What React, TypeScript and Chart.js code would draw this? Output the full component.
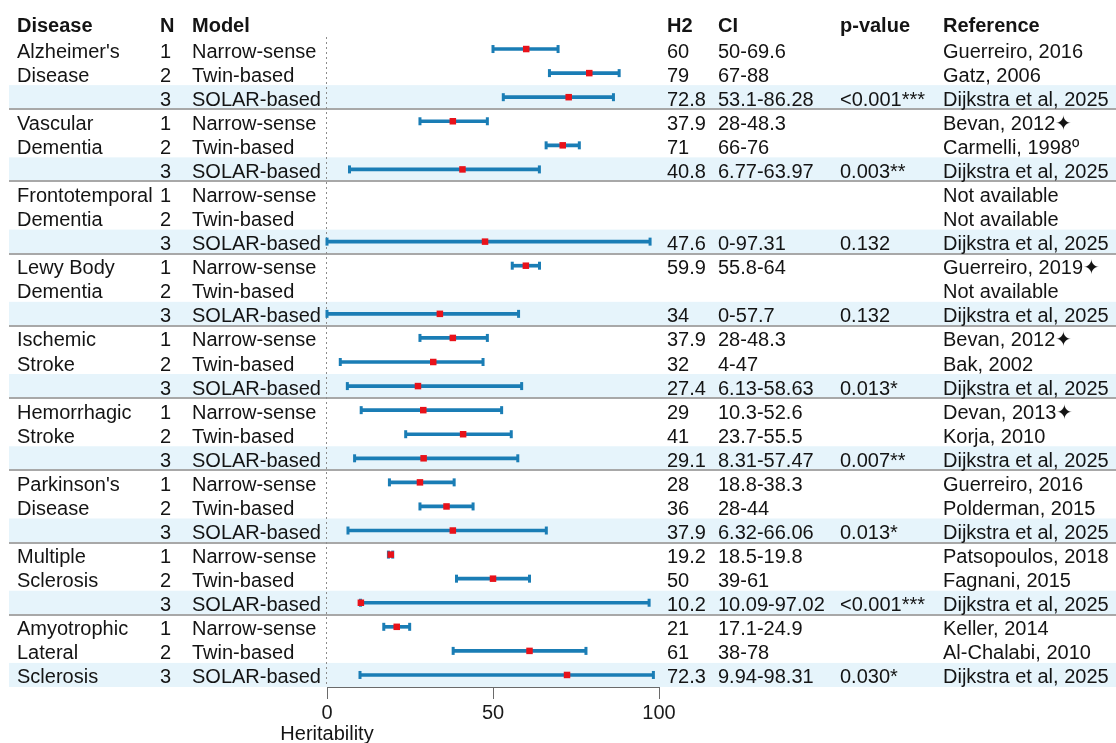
import { useEffect, useRef } from "react";
import { Chart, registerables } from "chart.js";

Chart.register(...registerables);

const diseases = [
  ["Alzheimer's", "Disease"],
  ["Vascular", "Dementia"],
  ["Frontotemporal", "Dementia"],
  ["Lewy Body", "Dementia"],
  ["Ischemic", "Stroke"],
  ["Hemorrhagic", "Stroke"],
  ["Parkinson's", "Disease"],
  ["Multiple", "Sclerosis"],
  ["Amyotrophic", "Lateral", "Sclerosis"],
];
const models = ["Narrow-sense", "Twin-based", "SOLAR-based"];
const h2 = [
  60, 79, 72.8,
  37.9, 71, 40.8,
  null, null, 47.6,
  59.9, null, 34,
  37.9, 32, 27.4,
  29, 41, 29.1,
  28, 36, 37.9,
  19.2, 50, 10.2,
  21, 61, 72.3,
];
const ciLow = [
  50, 67, 53.1,
  28, 66, 6.77,
  null, null, 0,
  55.8, null, 0,
  28, 4, 6.13,
  10.3, 23.7, 8.31,
  18.8, 28, 6.32,
  18.5, 39, 10.09,
  17.1, 38, 9.94,
];
const ciHigh = [
  69.6, 88, 86.28,
  48.3, 76, 63.97,
  null, null, 97.31,
  64, null, 57.7,
  48.3, 47, 58.63,
  52.6, 55.5, 57.47,
  38.3, 44, 66.06,
  19.8, 61, 97.02,
  24.9, 78, 98.31,
];
const pValues = ["<0.001***", "0.003**", "0.132", "0.132", "0.013*", "0.007**", "0.013*", "<0.001***", "0.030*"];
const references = [
  "Guerreiro, 2016", "Gatz, 2006", "Dijkstra et al, 2025",
  "Bevan, 2012\u2726", "Carmelli, 1998\u00ba", "Dijkstra et al, 2025",
  "Not available", "Not available", "Dijkstra et al, 2025",
  "Guerreiro, 2019\u2726", "Not available", "Dijkstra et al, 2025",
  "Bevan, 2012\u2726", "Bak, 2002", "Dijkstra et al, 2025",
  "Devan, 2013\u2726", "Korja, 2010", "Dijkstra et al, 2025",
  "Guerreiro, 2016", "Polderman, 2015", "Dijkstra et al, 2025",
  "Patsopoulos, 2018", "Fagnani, 2015", "Dijkstra et al, 2025",
  "Keller, 2014", "Al-Chalabi, 2010", "Dijkstra et al, 2025",
];
const headers = ["Disease", "N", "Model", "H2", "CI", "p-value", "Reference"];
const xTicks = [0, 50, 100];
const axisTitle = "Heritability";

const FONT = '"Liberation Sans", Arial, Helvetica, sans-serif';
const COL_X = [17, 160, 192, 667, 718, 840, 943];
const BAR_COLOR = "#1a7db5";
const POINT_COLOR = "#e8121a";
const BAND_COLOR = "#e6f4fb";
const SEP_COLOR = "#a8a8a8";
const TEXT_COLOR = "#141414";

const nRows = h2.length;

export default function App() {
  const ref = useRef<HTMLCanvasElement | null>(null);

  useEffect(() => {
    document.body.style.margin = "0";
    const canvas = ref.current;
    if (!canvas) return;

    const barData: any[] = [];
    const capData: any[] = [];
    const pointData: any[] = [];
    for (let i = 0; i < nRows; i++) {
      const row = i + 1;
      if (ciLow[i] != null && ciHigh[i] != null) {
        barData.push({ x: [ciLow[i], ciHigh[i]], y: row });
        capData.push({ x: ciLow[i], y: row });
        capData.push({ x: ciHigh[i], y: row });
      }
      if (h2[i] != null) pointData.push({ x: h2[i], y: row });
    }

    const tablePlugin = {
      id: "tablePlugin",
      beforeDraw(chart: any) {
        const { ctx, scales } = chart;
        const y = scales.y;
        const x = scales.x;
        const W = chart.width;
        ctx.save();
        ctx.fillStyle = "#ffffff";
        ctx.fillRect(0, 0, W, chart.height);
        for (let i = 0; i < nRows; i++) {
          const row = i + 1;
          if (i % 3 === 2) {
            const top = y.getPixelForValue(row - 0.5);
            const bot = y.getPixelForValue(row + 0.5);
            ctx.fillStyle = BAND_COLOR;
            ctx.fillRect(9, top, W - 9, bot - top);
          }
        }
        for (let i = 0; i < nRows - 1; i++) {
          const row = i + 1;
          if (i % 3 === 2) {
            const yy = Math.round(y.getPixelForValue(row + 0.5));
            ctx.strokeStyle = SEP_COLOR;
            ctx.lineWidth = 2;
            ctx.beginPath();
            ctx.moveTo(9, yy);
            ctx.lineTo(W, yy);
            ctx.stroke();
          }
        }
        const x0 = Math.round(x.getPixelForValue(0)) - 0.5;
        ctx.strokeStyle = "#8c8c8c";
        ctx.lineWidth = 1;
        ctx.setLineDash([2, 3]);
        ctx.beginPath();
        ctx.moveTo(x0, chart.chartArea.top);
        ctx.lineTo(x0, chart.chartArea.bottom);
        ctx.stroke();
        ctx.restore();
      },
      afterDraw(chart: any) {
        const { ctx, scales } = chart;
        const y = scales.y;
        const x = scales.x;
        ctx.save();
        ctx.fillStyle = TEXT_COLOR;
        ctx.textBaseline = "middle";
        ctx.textAlign = "left";
        ctx.font = `bold 20px ${FONT}`;
        const hy = y.getPixelForValue(0) + 2;
        headers.forEach((h, k) => ctx.fillText(h, COL_X[k], hy));
        ctx.font = `20px ${FONT}`;
        for (let i = 0; i < nRows; i++) {
          const row = i + 1;
          const g = Math.floor(i / 3);
          const k = i % 3;
          const yy = y.getPixelForValue(row) + 3;
          const dl = diseases[g][k];
          if (dl) ctx.fillText(dl, COL_X[0], yy);
          ctx.fillText(String(k + 1), COL_X[1], yy);
          ctx.fillText(models[k], COL_X[2], yy);
          if (h2[i] != null) ctx.fillText(String(h2[i]), COL_X[3], yy);
          if (ciLow[i] != null) ctx.fillText(`${ciLow[i]}-${ciHigh[i]}`, COL_X[4], yy);
          if (k === 2) ctx.fillText(pValues[g], COL_X[5], yy);
          ctx.fillText(references[i], COL_X[6], yy);
        }
        ctx.textAlign = "center";
        ctx.fillText(axisTitle, x.getPixelForValue(0), 734);
        ctx.restore();
      },
    };

    const chart = new Chart(canvas, {
      type: "scatter",
      data: {
        datasets: [
          {
            type: "scatter",
            data: pointData,
            pointStyle: "rect",
            pointRadius: 4.6,
            pointHoverRadius: 4.6,
            pointBackgroundColor: POINT_COLOR,
            pointBorderWidth: 0,
            order: 0,
            clip: false,
          } as any,
          {
            type: "scatter",
            data: capData,
            pointStyle: "line",
            rotation: 90,
            pointRadius: 4,
            pointHoverRadius: 4,
            pointBorderColor: BAR_COLOR,
            pointBorderWidth: 3,
            order: 1,
            clip: false,
          } as any,
          {
            type: "bar",
            indexAxis: "y",
            data: barData,
            backgroundColor: BAR_COLOR,
            barThickness: 3,
            borderWidth: 0,
            borderSkipped: false,
            order: 2,
            clip: false,
          } as any,
        ],
      },
      options: {
        responsive: false,
        animation: false,
        devicePixelRatio: 1,
        layout: { padding: { left: 327, right: 457, top: 37, bottom: 0 } },
        plugins: {
          legend: { display: false },
          tooltip: { enabled: false },
          title: { display: false },
        },
        events: [],
        scales: {
          x: {
            type: "linear",
            position: "bottom",
            min: 0,
            max: 100,
            offset: false,
            afterBuildTicks: (s: any) => {
              s.ticks = xTicks.map((v) => ({ value: v }));
            },
            afterFit: (s: any) => {
              s.height = 56;
            },
            ticks: {
              font: { family: FONT, size: 20 },
              color: "#1a1a1a",
              padding: 2,
              maxRotation: 0,
            },
            grid: {
              drawOnChartArea: false,
              drawTicks: true,
              tickLength: 12,
              color: "#6a6a6a",
              lineWidth: 1,
              offset: false,
            },
            border: { display: true, color: "#6a6a6a", width: 1 },
          },
          y: {
            type: "linear",
            min: 0.5,
            max: nRows + 0.5,
            reverse: true,
            offset: false,
            grace: 0,
            display: false,
            grid: { offset: false },
          },
        },
      } as any,
      plugins: [tablePlugin],
    });

    return () => chart.destroy();
  }, []);

  return (
    <div style={{ width: 1116, height: 743 }}>
      <canvas ref={ref} width={1116} height={743} style={{ display: "block" }} />
    </div>
  );
}
